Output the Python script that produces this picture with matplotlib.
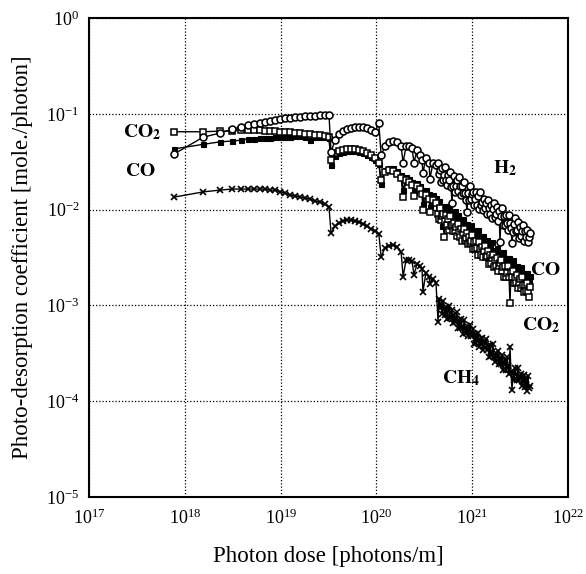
import matplotlib
matplotlib.use("Agg")
import matplotlib.pyplot as plt
from matplotlib.ticker import LogLocator, NullLocator

plt.rcParams['font.family'] = ['Liberation Serif', 'DejaVu Serif']
plt.rcParams['mathtext.fontset'] = 'stix'
plt.rcParams['axes.unicode_minus'] = False

# Photon dose [photons/m] (shared measurement grid)
dose = [7.7e17, 1.55e18, 2.33e18, 3.11e18, 3.86e18, 4.57e18, 5.28e18, 6.10e18, 6.87e18, 7.75e18,
        8.74e18, 9.86e18, 1.11e19, 1.25e19, 1.41e19, 1.60e19, 1.80e19, 2.03e19, 2.29e19, 2.58e19,
        2.90e19, 3.20e19,
        3.36e19, 3.70e19, 4.07e19, 4.48e19, 4.93e19, 5.43e19, 5.98e19, 6.58e19, 7.25e19, 7.98e19,
        8.79e19, 9.67e19, 1.06e20,
        1.12e20, 1.23e20, 1.35e20, 1.49e20, 1.64e20, 1.81e20, 1.90e20, 2.04e20, 2.19e20, 2.35e20,
        2.47e20, 2.65e20, 2.85e20, 2.99e20, 3.06e20, 3.29e20, 3.54e20, 3.62e20, 3.90e20, 4.19e20,
        4.40e20, 4.50e20, 4.61e20, 4.72e20, 4.84e20, 4.96e20, 5.08e20, 5.20e20, 5.33e20, 5.46e20,
        5.59e20, 5.73e20, 5.87e20, 6.01e20, 6.15e20, 6.30e20, 6.46e20, 6.61e20, 6.78e20, 6.94e20,
        7.11e20, 7.28e20, 7.46e20, 7.64e20, 7.83e20, 8.02e20, 8.21e20, 8.41e20, 8.61e20, 8.83e20,
        9.04e20, 9.26e20, 9.48e20, 9.71e20, 9.95e20, 1.019e21, 1.044e21, 1.070e21, 1.095e21,
        1.122e21, 1.150e21, 1.178e21, 1.206e21, 1.236e21, 1.266e21, 1.296e21, 1.328e21, 1.360e21,
        1.393e21, 1.427e21, 1.462e21, 1.497e21, 1.534e21, 1.571e21, 1.609e21, 1.649e21, 1.689e21,
        1.730e21, 1.772e21, 1.815e21, 1.859e21, 1.904e21, 1.951e21, 1.998e21, 2.046e21, 2.096e21,
        2.147e21, 2.199e21, 2.253e21, 2.307e21, 2.364e21, 2.421e21, 2.480e21, 2.540e21, 2.602e21,
        2.666e21, 2.731e21, 2.797e21, 2.865e21, 2.935e21, 3.006e21, 3.079e21, 3.154e21, 3.231e21,
        3.310e21, 3.390e21, 3.473e21, 3.557e21, 3.644e21, 3.733e21, 3.823e21, 3.916e21, 4.012e21]

h2 = [0.038, 0.057, 0.063, 0.069, 0.073, 0.076, 0.078, 0.080, 0.082, 0.084, 0.086, 0.088, 0.090,
      0.090, 0.093, 0.093, 0.095, 0.095, 0.095, 0.097, 0.097, 0.097,
      0.040, 0.053, 0.062, 0.066, 0.069, 0.071, 0.073, 0.073, 0.073, 0.071, 0.068, 0.065, 0.080,
      0.037, 0.046, 0.051, 0.052, 0.051, 0.046, 0.031, 0.046, 0.046, 0.044, 0.031, 0.042, 0.037,
      0.033, 0.024, 0.035, 0.031, 0.021, 0.031, 0.029,
      0.0306, 0.0235, 0.0259, 0.0194, 0.0272, 0.0204, 0.0230, 0.0278, 0.0204, 0.0181,
      0.0230, 0.0204, 0.0247, 0.0172, 0.0117, 0.0176, 0.0224, 0.0153, 0.0176, 0.0204,
      0.0156, 0.0219, 0.0176, 0.0142, 0.0176, 0.0149, 0.0194, 0.0149, 0.0126, 0.0094,
      0.0149, 0.0126, 0.0176, 0.0129, 0.0145, 0.0153, 0.0112, 0.0129, 0.0153, 0.0112,
      0.0139, 0.0101, 0.0153, 0.0112, 0.0120, 0.0099, 0.0129, 0.0104, 0.0117, 0.0090,
      0.0126, 0.0104, 0.0090, 0.0112, 0.0082, 0.0101, 0.0117, 0.0084, 0.0090, 0.0106,
      0.0076, 0.0097, 0.0046, 0.0086, 0.0104, 0.0069, 0.0086, 0.0069, 0.0088, 0.0072,
      0.0061, 0.0088, 0.0072, 0.0064, 0.0045, 0.0058, 0.0071, 0.0082, 0.0060, 0.0061,
      0.0074, 0.0051, 0.0066, 0.0053, 0.0060, 0.0069, 0.0047, 0.0060, 0.0052, 0.0061,
      0.0046, 0.0052, 0.0057]

co = [0.043, 0.048, 0.051, 0.052, 0.053, 0.055, 0.055, 0.056, 0.056, 0.056, 0.057, 0.057, 0.057,
      0.057, 0.059, 0.059, 0.057, 0.053, 0.057, 0.057, 0.057, 0.056,
      0.0292, 0.0363, 0.0390, 0.0399, 0.0409, 0.0409, 0.0409, 0.0399, 0.0390, 0.0371, 0.0354,
      0.0329, 0.0299,
      0.0185, 0.0259, 0.0272, 0.0272, 0.0253, 0.0230, 0.0160, 0.0219, 0.0209, 0.0194, 0.0153,
      0.0190, 0.0176, 0.0160, 0.0114, 0.0160, 0.0146, 0.0106, 0.0142, 0.0132,
      0.0101, 0.0123, 0.0104, 0.0109, 0.0067, 0.0090, 0.0106, 0.0090, 0.0109, 0.0092,
      0.0080, 0.0106, 0.0090, 0.0082, 0.0094, 0.0076, 0.0086, 0.0097, 0.0074, 0.0076,
      0.0088, 0.0064, 0.0080, 0.0066, 0.0072, 0.0080, 0.0058, 0.0071, 0.0063, 0.0071,
      0.0056, 0.0061, 0.0066, 0.0069, 0.0056, 0.0060, 0.0047, 0.0061, 0.0048, 0.0053,
      0.0061, 0.0047, 0.0043, 0.0052, 0.0047, 0.0053, 0.0040, 0.0046, 0.0040, 0.0048,
      0.0035, 0.0040, 0.0044, 0.0035, 0.0046, 0.0038, 0.0032, 0.0038, 0.0034, 0.0040,
      0.0033, 0.0028, 0.0036, 0.0032, 0.0028, 0.0036, 0.0028, 0.0031, 0.0031, 0.0025,
      0.0027, 0.0031, 0.0024, 0.0028, 0.0022, 0.0030, 0.0023, 0.0025, 0.0021, 0.0026,
      0.0021, 0.0023, 0.00188, 0.0025, 0.00207, 0.00184, 0.0022, 0.00167, 0.00197, 0.0022,
      0.00171, 0.00175, 0.00202]

co2 = [0.065, 0.065, 0.066, 0.066, 0.068, 0.068, 0.068, 0.068, 0.066, 0.066, 0.066, 0.065, 0.065,
       0.065, 0.063, 0.063, 0.062, 0.062, 0.060, 0.060, 0.059, 0.057,
       0.033, 0.039, 0.041, 0.042, 0.043, 0.043, 0.043, 0.042, 0.041, 0.039, 0.037, 0.035, 0.031,
       0.0204, 0.0247, 0.0259, 0.0253, 0.0235, 0.0214, 0.0135, 0.0204, 0.0194, 0.0181, 0.0139,
       0.0176, 0.0164, 0.0146, 0.0099, 0.0142, 0.0129, 0.0094, 0.0126, 0.0117,
       0.0090, 0.0080, 0.0104, 0.0078, 0.0086, 0.0090, 0.0052, 0.0076, 0.0088, 0.0069,
       0.0080, 0.0061, 0.0086, 0.0067, 0.0069, 0.0060, 0.0072, 0.0060, 0.0066, 0.0053,
       0.0071, 0.0058, 0.0052, 0.0063, 0.0047, 0.0057, 0.0063, 0.0048, 0.0051, 0.0057,
       0.0044, 0.0052, 0.0045, 0.0047, 0.0054, 0.0039, 0.0046, 0.0039, 0.0047, 0.0040,
       0.0034, 0.0046, 0.0039, 0.0034, 0.0041, 0.0032, 0.0037, 0.0042, 0.0032, 0.0033,
       0.0037, 0.0027, 0.0034, 0.0028, 0.0031, 0.0034, 0.0025, 0.0030, 0.0026, 0.0031,
       0.0023, 0.0026, 0.0028, 0.0030, 0.0023, 0.0025, 0.0020, 0.0026, 0.0020, 0.0022,
       0.0026, 0.00197, 0.00106, 0.0022, 0.00197, 0.0023, 0.00171, 0.00193, 0.00171, 0.00207,
       0.00152, 0.00171, 0.00188, 0.00152, 0.00197, 0.00163, 0.00138, 0.00163, 0.00142, 0.00171,
       0.00138, 0.00122, 0.00155]

ch4 = [0.0135, 0.0153, 0.0160, 0.0164, 0.0164, 0.0164, 0.0164, 0.0164, 0.0164, 0.0160, 0.0160,
       0.0153, 0.0149, 0.0142, 0.0139, 0.0135, 0.0132, 0.0129, 0.0123, 0.0120, 0.0114, 0.0106,
       0.0057, 0.0067, 0.0072, 0.0076, 0.0078, 0.0078, 0.0076, 0.0074, 0.0071, 0.0067, 0.0063,
       0.0060, 0.0056,
       0.0032, 0.0040, 0.0042, 0.0043, 0.0041, 0.0036, 0.0020, 0.0030, 0.0030, 0.0029, 0.0021,
       0.0027, 0.0026, 0.0024, 0.00139, 0.0022, 0.0020, 0.00168, 0.0019, 0.0017,
       6.70e-4, 1.16e-3, 9.40e-4, 1.04e-3, 8.12e-4, 1.11e-3, 9.17e-4, 7.93e-4, 9.63e-4, 7.20e-4,
       8.73e-4, 9.86e-4, 7.38e-4, 7.56e-4, 8.94e-4, 6.54e-4, 7.93e-4, 6.70e-4, 7.20e-4, 8.52e-4,
       5.80e-4, 7.03e-4, 5.80e-4, 7.20e-4, 5.94e-4, 5.02e-4, 7.03e-4, 5.80e-4, 5.15e-4, 6.08e-4,
       4.78e-4, 5.53e-4, 6.23e-4, 4.78e-4, 4.90e-4, 5.66e-4, 3.95e-4, 5.02e-4, 4.05e-4, 4.56e-4,
       5.15e-4, 3.67e-4, 4.45e-4, 3.95e-4, 4.56e-4, 3.42e-4, 3.85e-4, 4.15e-4, 4.45e-4, 3.42e-4,
       3.76e-4, 2.89e-4, 3.85e-4, 2.96e-4, 3.26e-4, 3.95e-4, 2.89e-4, 2.56e-4, 3.18e-4, 2.89e-4,
       3.34e-4, 2.44e-4, 2.82e-4, 2.44e-4, 3.03e-4, 2.11e-4, 2.44e-4, 2.69e-4, 2.11e-4, 2.89e-4,
       2.32e-4, 1.92e-4, 3.67e-4, 2.01e-4, 1.31e-4, 1.96e-4, 1.66e-4, 2.21e-4, 1.92e-4, 1.66e-4,
       2.21e-4, 1.66e-4, 1.83e-4, 1.92e-4, 1.44e-4, 1.62e-4, 1.87e-4, 1.40e-4, 1.66e-4, 1.28e-4,
       1.83e-4, 1.37e-4, 1.44e-4]

fig = plt.figure(figsize=(5.86, 5.74), dpi=100)
ax = fig.add_axes([0.1519, 0.1341, 0.8174, 0.8345])

lw = 1.0
ax.plot(dose, co, '-', color='black', lw=lw, marker='s', ms=3.6, mfc='black', mec='black', mew=0.8)
ax.plot(dose, co2, '-', color='black', lw=lw, marker='s', ms=4.8, mfc='white', mec='black', mew=1.1)
ax.plot(dose, h2, '-', color='black', lw=lw, marker='o', ms=5.0, mfc='white', mec='black', mew=1.15)
ax.plot(dose, ch4, '-', color='black', lw=lw, marker='x', ms=4.8, mec='black', mew=1.2)

ax.set_xscale('log')
ax.set_yscale('log')
ax.set_xlim(1e17, 1e22)
ax.set_ylim(1e-5, 1e0)
ax.xaxis.set_major_locator(LogLocator(base=10, numticks=10))
ax.yaxis.set_major_locator(LogLocator(base=10, numticks=10))
ax.xaxis.set_minor_locator(NullLocator())
ax.yaxis.set_minor_locator(NullLocator())
ax.tick_params(axis='both', which='major', length=0, labelsize=13)
ax.tick_params(axis='x', pad=8)
ax.tick_params(axis='y', pad=7)

ax.grid(True, which='major', color='black', linestyle=(0, (1, 1.6)), linewidth=0.9)
for s in ax.spines.values():
    s.set_linewidth(1.5)

ax.set_xlabel('Photon dose [photons/m]', fontsize=16.5)
ax.set_ylabel('Photo-desorption coefficient [mole./photon]', fontsize=16.5)
ax.xaxis.set_label_coords(0.5, -0.103)
ax.yaxis.set_label_coords(-0.117, 0.5)

fs = 14
ax.text(0.071, 0.7516, r'$\mathbf{CO_2}$', transform=ax.transAxes, fontsize=fs, ha='left', va='baseline')
ax.text(0.075, 0.670, r'$\mathbf{CO}$', transform=ax.transAxes, fontsize=fs, ha='left', va='baseline')
ax.text(0.843, 0.676, r'$\mathbf{H_2}$', transform=ax.transAxes, fontsize=fs, ha='left', va='baseline')
ax.text(0.921, 0.4635, r'$\mathbf{CO}$', transform=ax.transAxes, fontsize=fs, ha='left', va='baseline')
ax.text(0.904, 0.349, r'$\mathbf{CO_2}$', transform=ax.transAxes, fontsize=fs, ha='left', va='baseline')
ax.text(0.737, 0.238, r'$\mathbf{CH_4}$', transform=ax.transAxes, fontsize=fs, ha='left', va='baseline')

fig.savefig('out.png', dpi=100)
